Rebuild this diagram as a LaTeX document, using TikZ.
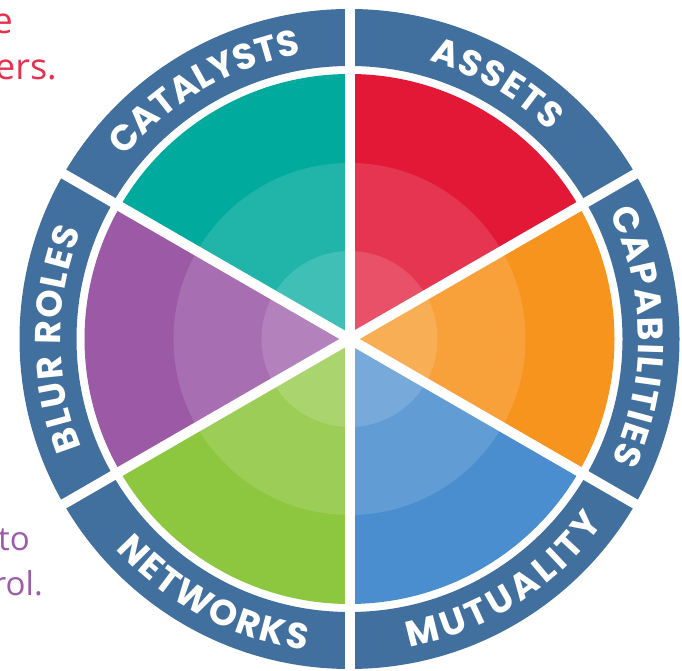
\documentclass[tikz,border=0pt]{standalone}
\usepackage{fontspec}
\setmainfont{Open Sans}
\newfontfamily\ringfont{Poppins}
\usetikzlibrary{decorations.text}

\definecolor{ringblue}{HTML}{41709F}
\definecolor{assets}{HTML}{E31837}
\definecolor{capab}{HTML}{F7941D}
\definecolor{mutual}{HTML}{4A8ECF}
\definecolor{networks}{HTML}{8DC63F}
\definecolor{blur}{HTML}{9B59A6}
\definecolor{catalyst}{HTML}{00AB9E}
\definecolor{redtext}{HTML}{E6304E}
\definecolor{purpletext}{HTML}{9B5CAB}

\newcommand{\rf}{\ringfont\bfseries\fontsize{36}{36}\selectfont}

\begin{document}
\begin{tikzpicture}[x=1pt,y=1pt]
        \tikzstyle{gap}=[white, line width=10pt]
        \tikzstyle{note}=[anchor=base east, inner sep=0pt, font=\fontsize{36}{36}\selectfont]
        \tikzstyle{ringtext}=[decorate, decoration={text along path, text align=fit to path, text color=white}]

        \useasboundingbox (0,0) rectangle (682,671);
        \coordinate (o) at (349.5,332);

        % outer band
        \fill[ringblue, even odd rule] (o) circle (330) (o) circle (273);

        % the six wedges
        \fill[assets]   (o) -- ++(30:265)  arc[start angle=30,  end angle=90,  radius=265] -- cycle;
        \fill[catalyst] (o) -- ++(90:265)  arc[start angle=90,  end angle=150, radius=265] -- cycle;
        \fill[blur]     (o) -- ++(150:265) arc[start angle=150, end angle=210, radius=265] -- cycle;
        \fill[networks] (o) -- ++(210:265) arc[start angle=210, end angle=270, radius=265] -- cycle;
        \fill[mutual]   (o) -- ++(270:265) arc[start angle=270, end angle=330, radius=265] -- cycle;
        \fill[capab]    (o) -- ++(-30:265) arc[start angle=-30, end angle=30,  radius=265] -- cycle;

        % lighter inner circles
        \fill[white, opacity=.13] (o) circle (176);
        \fill[white, opacity=.14] (o) circle (88);

        % white cuts
        \draw[gap] (o) -- ++(90:345);
        \draw[gap] (o) -- ++(30:345);
        \draw[gap] (o) -- ++(-30:345);
        \draw[gap] (o) -- ++(270:345);
        \draw[gap] (o) -- ++(210:345);
        \draw[gap] (o) -- ++(150:345);

        % band labels
        \path[ringtext, decoration={text={|\rf|CATALYSTS}}]    (o) ++(141:289) arc[start angle=141, end angle=101, radius=289];
        \path[ringtext, decoration={text={|\rf|ASSETS}}]       (o) ++(74:289)  arc[start angle=74,  end angle=46,  radius=289];
        \path[ringtext, decoration={text={|\rf|BLUR ROLES}}]   (o) ++(202:289) arc[start angle=202, end angle=158, radius=289];
        \path[ringtext, decoration={text={|\rf|CAPABILITIES}}] (o) ++(26:289)  arc[start angle=26,  end angle=-25, radius=289];
        \path[ringtext, decoration={text={|\rf|NETWORKS}}]     (o) ++(222:314) arc[start angle=222, end angle=262, radius=314];
        \path[ringtext, decoration={text={|\rf|MUTUALITY}}]    (o) ++(281:314) arc[start angle=281, end angle=324, radius=314];

        % side text
        \node[note, redtext] (t1) at (13,637) {e};
        \node[note, redtext] (t2) at (57,591) {ers.};
        \node[note, purpletext, font=\fontsize{33}{33}\selectfont] (t3) at (30,120) {to};
        \node[note, purpletext, font=\fontsize{33}{33}\selectfont] (t4) at (43,75) {rol.};
\end{tikzpicture}
\end{document}
